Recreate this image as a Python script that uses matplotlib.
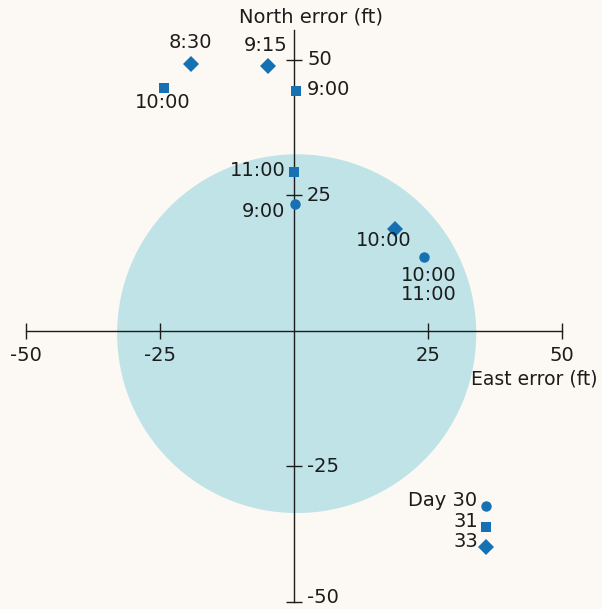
import matplotlib
matplotlib.use('Agg')
import matplotlib.pyplot as plt
from matplotlib.patches import Ellipse

plt.rcParams['font.family'] = ['DejaVu Sans']

# error circle (ft)
circle_center = (0.5, -0.5)
circle_width = 67.0
circle_height = 66.2

# fixes, grouped by marker
circle_x = [0.1, 24.3, 35.9]
circle_y = [23.4, 13.6, -32.3]
circle_labels = ['9:00', '10:00\n11:00', 'Day 30']

square_x = [-24.3, 0.3, 0.0, 35.8]
square_y = [44.8, 44.3, 29.3, -36.1]
square_labels = ['10:00', '9:00', '11:00', '31']

diamond_x = [-19.3, -4.9, 18.9, 35.8]
diamond_y = [49.3, 48.9, 18.9, -39.8]
diamond_labels = ['8:30', '9:15', '10:00', '33']

ticks = [-50, -25, 25, 50]
tick_labels = ['-50', '-25', '25', '50']

BG = '#fcf9f4'
BLUE = '#1670b4'
CYAN = '#bfe3e7'
INK = '#1c1c1c'
FS = 14

# label offsets in pixels, (dx, dy, ha)
circle_off = [(-9, -7, 'right'), (4, -28, 'center'), (-9, 6, 'right')]
square_off = [(-1, -14, 'center'), (11, 1, 'left'), (-8, 2, 'right'), (-8, 5, 'right')]
diamond_off = [(0, 21, 'center'), (-2, 20, 'center'), (-12, -12, 'center'), (-8, 5, 'right')]
ytick_dy = [4, 0, 0, 0]

fig = plt.figure(figsize=(6.02, 6.09), dpi=100, facecolor=BG)
ax = fig.add_axes([0, 0, 1, 1])
ax.set_facecolor(BG)
ax.set_xlim(-54.85, 57.46)
ax.set_ylim(-51.3, 61.07)

ax.add_patch(Ellipse(circle_center, circle_width, circle_height,
                     facecolor=CYAN, edgecolor='none', zorder=0))

for side in ['top', 'right']:
    ax.spines[side].set_visible(False)
ax.spines['left'].set_position(('data', 0))
ax.spines['bottom'].set_position(('data', 0))
ax.spines['left'].set_bounds(-50, 55.5)
ax.spines['bottom'].set_bounds(-50, 50)
for side in ['left', 'bottom']:
    ax.spines[side].set_color(INK)
    ax.spines[side].set_linewidth(1.0)
ax.set_xticks(ticks)
ax.set_yticks(ticks)
ax.tick_params(direction='inout', length=11, width=1.0, color=INK,
               labelbottom=False, labelleft=False)

for t, lab, dy in zip(ticks, tick_labels, ytick_dy):
    ax.annotate(lab, (t, 0), xytext=(0, -25), textcoords='offset pixels',
                ha='center', va='center', fontsize=FS, color=INK)
    ax.annotate(lab, (0, t), xytext=(13, dy), textcoords='offset pixels',
                ha='left', va='center', fontsize=FS, color=INK)

ax.text(3.1, 58.0, 'North error (ft)', ha='center', va='center',
        fontsize=FS, color=INK)
ax.text(44.9, -8.8, 'East error (ft)', ha='center', va='center',
        fontsize=13.5, color=INK)

groups = [
    (circle_x, circle_y, circle_labels, circle_off, 'o', 7.5),
    (square_x, square_y, square_labels, square_off, 's', 6.5),
    (diamond_x, diamond_y, diamond_labels, diamond_off, 'D', 8.5),
]
for xs, ys, labels, offs, mk, ms in groups:
    ax.plot(xs, ys, linestyle='none', marker=mk, markersize=ms,
            color=BLUE, markeredgewidth=0, zorder=3)
    for x, y, lab, (dx, dy, ha) in zip(xs, ys, labels, offs):
        ax.annotate(lab, (x, y), xytext=(dx, dy), textcoords='offset pixels',
                    ha=ha, va='center', fontsize=FS, color=INK,
                    linespacing=1.0)

fig.savefig('out.png', dpi=100, facecolor=BG)
